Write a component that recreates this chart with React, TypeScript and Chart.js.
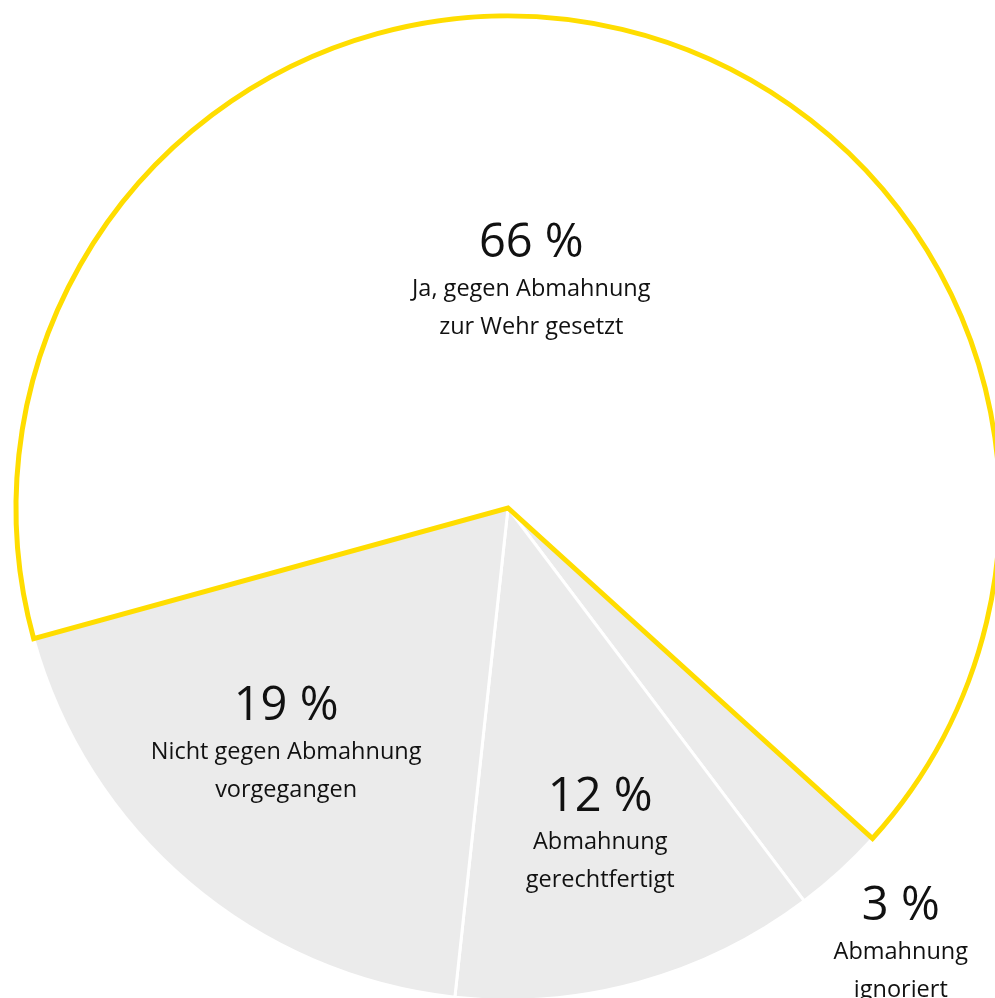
import React, { useEffect, useRef } from "react";
import { Chart, registerables } from "chart.js";

Chart.register(...registerables);

// Data (drawing order: the 66 % slice last so its yellow outline stays on top)
const percentLabels = ["3 %", "12 %", "19 %", "66 %"];
const categoryLines = [
  ["Abmahnung", "ignoriert"],
  ["Abmahnung", "gerechtfertigt"],
  ["Nicht gegen Abmahnung", "vorgegangen"],
  ["Ja, gegen Abmahnung", "zur Wehr gesetzt"],
];
const values = [3, 12, 19, 66];

// Styling / placement (kept apart from data)
const fillColors = ["#ebebeb", "#ebebeb", "#ebebeb", "#ffffff"];
const borderColors = ["#ffffff", "#ffffff", "#ffffff", "#ffdd00"];
const borderWidths = [3, 3, 3, 5];
const labelRadiusFactor = [1.135, 0.613, 0.603, 0.543];
const labelAngleShiftDeg = [-2.3, -2.4, 8.0, -8.4];

const FONT = "'Open Sans', 'Noto Sans', sans-serif";

const labelPlugin = {
  id: "sliceLabels",
  afterDatasetsDraw(chart: any) {
    const ctx = chart.ctx;
    const meta = chart.getDatasetMeta(0);
    ctx.save();
    ctx.fillStyle = "#111111";
    ctx.textAlign = "center";
    ctx.textBaseline = "middle";
    meta.data.forEach((arc: any, i: number) => {
      const { x, y, startAngle, endAngle, outerRadius } = arc.getProps(
        ["x", "y", "startAngle", "endAngle", "outerRadius"],
        true
      );
      const mid = (startAngle + endAngle) / 2 + (labelAngleShiftDeg[i] * Math.PI) / 180;
      const r = outerRadius * labelRadiusFactor[i];
      const lx = x + Math.cos(mid) * r;
      const ly = y + Math.sin(mid) * r + 2;
      ctx.font = `47px ${FONT}`;
      ctx.fillText(percentLabels[i], lx, ly);
      ctx.font = `23.5px ${FONT}`;
      categoryLines[i].forEach((line, j) => {
        ctx.fillText(line, lx, ly + 45 + j * 38);
      });
    });
    ctx.restore();
  },
};

export default function App() {
  const ref = useRef<HTMLCanvasElement | null>(null);
  useEffect(() => {
    if (!ref.current) return;
    const chart = new Chart(ref.current, {
      type: "pie",
      data: {
        labels: categoryLines.map((l) => l.join(" ")),
        datasets: [
          {
            data: values,
            backgroundColor: fillColors,
            borderColor: borderColors,
            borderWidth: borderWidths,
            borderJoinStyle: "miter" as any,
          },
        ],
      },
      options: {
        responsive: false,
        maintainAspectRatio: false,
        animation: false,
        rotation: 132.2,
        radius: 492,
        layout: { padding: 0 },
        plugins: {
          legend: { display: false },
          tooltip: { enabled: false },
        },
      } as any,
      plugins: [labelPlugin],
    });
    return () => chart.destroy();
  }, []);
  return (
    <div
      style={{
        position: "fixed",
        left: 0,
        top: 0,
        width: 995,
        height: 998,
        overflow: "hidden",
        background: "#ffffff",
      }}
    >
      <canvas ref={ref} width={1016} height={1016} style={{ width: 1016, height: 1016, display: "block" }} />
    </div>
  );
}
